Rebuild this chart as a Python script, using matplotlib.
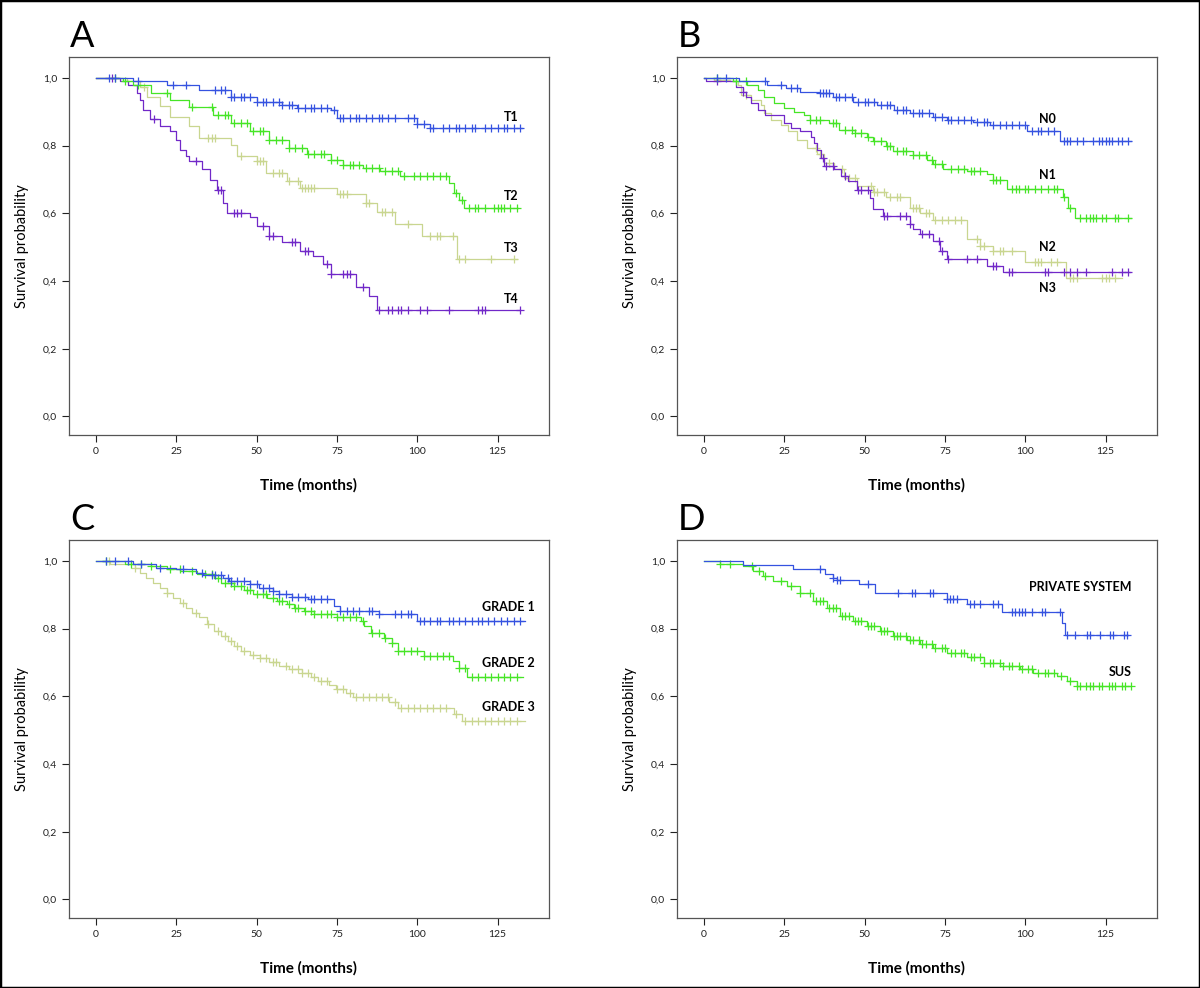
import numpy as np
import matplotlib.pyplot as plt
from matplotlib.patches import Rectangle

plt.rcParams['font.family'] = ['Lato', 'DejaVu Sans']

# cores das curvas
BLUE = '#3552e0'
GREEN = '#46e526'
YELLOW = '#c9d690'
PURPLE = '#7128c8'

# ---- Painel A: estadio T ----
t1_time = [0, 11.5, 22, 32, 42, 50, 58, 62.5, 73, 75, 100, 104]
t1_surv = [1.0, 0.99, 0.98, 0.965, 0.945, 0.93, 0.92, 0.91, 0.905, 0.883, 0.865, 0.853]
t1_cens = [4, 6, 13, 24, 28, 37, 39, 40, 42, 43, 45, 46, 48, 50, 52, 53, 55, 57, 58, 60, 61, 63,
           65, 67, 68, 70, 72, 74, 76, 77, 79, 81, 82, 84, 86, 88, 89, 91, 93, 97, 99, 100, 102,
           104, 105, 108, 110, 112, 113, 115, 117, 118, 121, 123, 125, 127, 128, 130, 132]
t1_end = 132.5

t2_time = [0, 8.4, 11.5, 17, 23, 29, 36.5, 42, 48, 54, 60, 65.6, 73, 77, 83, 88.4, 94.6,
           110, 111.5, 113, 114.6]
t2_surv = [1.0, 0.99, 0.98, 0.955, 0.935, 0.915, 0.89, 0.867, 0.842, 0.818, 0.794, 0.774,
           0.759, 0.744, 0.735, 0.724, 0.71, 0.69, 0.66, 0.64, 0.617]
t2_cens = [6, 9, 13, 22, 30, 36, 38, 40, 41, 43, 45, 47, 49, 51, 52, 54, 56, 58, 60, 62, 64, 66,
           68, 70, 71, 73, 75, 77, 79, 80, 82, 84, 86, 88, 90, 92, 94, 96, 99, 101, 103, 105,
           107, 109, 112, 114, 116, 118, 119, 121, 124, 125, 126, 127, 129, 131]
t2_end = 131.5

t3_time = [0, 9.6, 13.7, 16, 20, 23, 29, 32, 42, 44, 50, 53, 59.5, 63.5, 75, 84, 87.5, 93,
           101.4, 112.4]
t3_surv = [1.0, 0.99, 0.974, 0.945, 0.916, 0.886, 0.857, 0.824, 0.803, 0.77, 0.755, 0.72,
           0.695, 0.676, 0.656, 0.632, 0.603, 0.568, 0.533, 0.465]
t3_cens = [15, 35, 36, 37, 45, 50, 51, 52, 55, 57, 58, 60, 63, 64, 65, 66, 67, 68, 76, 77, 78,
           84, 85, 89, 90, 92, 97, 104, 106, 107, 111, 113, 115, 123, 130]
t3_end = 131

t4_time = [0, 7.5, 10, 12.7, 13.7, 14.7, 16.8, 20, 23, 25, 26, 28, 29, 33, 35.5, 37.6, 39.6,
           40.7, 48, 50, 54, 58, 63.5, 67.5, 70.7, 73, 81, 85, 87.5]
t4_surv = [1.0, 0.99, 0.98, 0.955, 0.935, 0.906, 0.88, 0.857, 0.842, 0.818, 0.788, 0.769,
           0.755, 0.73, 0.70, 0.67, 0.632, 0.602, 0.588, 0.562, 0.533, 0.514, 0.489, 0.475,
           0.45, 0.42, 0.382, 0.357, 0.313]
t4_cens = [5, 18, 31, 38, 39, 43, 44, 45, 52, 54, 55, 61, 62, 65, 66, 72, 73, 77, 78, 79, 83,
           88, 91, 92, 94, 95, 97, 101, 103, 110, 119, 120, 121, 132]
t4_end = 132

# ---- Painel B: estadio N ----
n0_time = [0, 11, 19.5, 25.5, 29.9, 36, 40.2, 46.5, 53.8, 59, 64, 71.4, 75.6, 83.8, 89,
           100.5, 110.8]
n0_surv = [1.0, 0.99, 0.98, 0.97, 0.96, 0.955, 0.945, 0.93, 0.92, 0.906, 0.896, 0.886, 0.876,
           0.869, 0.862, 0.842, 0.813]
n0_cens = [4, 7, 19, 24, 27, 29, 36, 37, 38, 39, 41, 42, 44, 46, 48, 50, 51, 53, 55, 57, 58,
           60, 62, 63, 65, 67, 68, 70, 72, 74, 76, 77, 79, 81, 83, 85, 87, 88, 90, 92, 94, 96,
           98, 100, 102, 104, 105, 107, 109, 112, 113, 114, 116, 118, 121, 123, 124, 125, 126,
           127, 129, 130, 132]
n0_end = 133

n1_time = [0, 9, 13.5, 16.7, 18.8, 21.9, 25, 28, 31, 33, 39, 42, 47, 50.6, 52.7, 56.8, 58.9,
           65, 69.3, 71.4, 74.5, 81.8, 88, 90, 94.2, 111.8, 113.4, 115.4]
n1_surv = [1.0, 0.99, 0.98, 0.965, 0.945, 0.926, 0.912, 0.90, 0.89, 0.876, 0.867, 0.847,
           0.838, 0.827, 0.813, 0.798, 0.783, 0.771, 0.759, 0.747, 0.731, 0.725, 0.715, 0.70,
           0.673, 0.647, 0.617, 0.585]
n1_cens = [4, 10, 13, 33, 35, 36, 40, 41, 44, 46, 47, 49, 51, 53, 55, 57, 58, 60, 62, 63, 65,
           67, 69, 71, 72, 74, 77, 79, 81, 83, 84, 86, 90, 91, 92, 96, 97, 98, 100, 101, 103,
           105, 107, 109, 110, 112, 114, 117, 119, 120, 121, 122, 124, 125, 128, 129, 132]
n1_end = 133

n2_time = [0, 3, 8, 10.5, 11.6, 14.7, 17.8, 18.8, 20.9, 24, 26, 29, 32.2, 35.3, 37.4, 40.5,
           43.6, 47.7, 52.7, 56.8, 64, 67.2, 71.4, 81.8, 86, 90, 100, 112.8]
n2_surv = [1.0, 0.995, 0.99, 0.98, 0.95, 0.935, 0.92, 0.896, 0.876, 0.862, 0.842, 0.818,
           0.794, 0.774, 0.75, 0.73, 0.705, 0.68, 0.662, 0.647, 0.615, 0.60, 0.58, 0.524,
           0.504, 0.489, 0.456, 0.41]
n2_cens = [13, 35, 36, 39, 43, 45, 47, 52, 53, 54, 56, 58, 60, 61, 65, 66, 67, 69, 70, 72, 74,
           76, 78, 80, 85, 86, 87, 90, 92, 93, 96, 103, 104, 105, 108, 110, 114, 115, 116, 124,
           125, 126, 128]
n2_end = 130

n3_time = [0, 0.5, 10, 12, 13, 14.7, 16.8, 19, 25, 27, 30, 33.2, 34.2, 35.3, 36.3, 37.4, 40.5,
           42.6, 44.7, 47.7, 51.7, 52.7, 55.8, 64, 65, 67.2, 71.4, 73.4, 75.6, 88, 93.2]
n3_surv = [1.0, 0.99, 0.974, 0.96, 0.945, 0.926, 0.906, 0.89, 0.867, 0.852, 0.842, 0.827,
           0.808, 0.788, 0.765, 0.74, 0.73, 0.71, 0.695, 0.67, 0.646, 0.612, 0.592, 0.568,
           0.553, 0.538, 0.519, 0.489, 0.465, 0.445, 0.426]
n3_cens = [4, 12, 37, 38, 40, 44, 48, 49, 51, 56, 57, 61, 63, 64, 68, 70, 73, 74, 76, 82, 85,
           90, 91, 95, 96, 106, 107, 112, 114, 116, 119, 127, 130, 132]
n3_end = 132.6

# ---- Painel C: grau histologico ----
g1_time = [0, 11.5, 18.7, 25, 31, 33.2, 39.4, 41.5, 48, 50.8, 55, 57, 61, 66, 74, 76, 88, 100]
g1_surv = [1.0, 0.99, 0.98, 0.975, 0.965, 0.96, 0.951, 0.941, 0.931, 0.921, 0.912, 0.902,
           0.894, 0.887, 0.867, 0.852, 0.843, 0.823]
g1_cens = [3, 6, 10, 14, 20, 27, 33, 36, 37, 39, 41, 42, 44, 46, 48, 50, 52, 54, 55, 57, 59,
           61, 63, 65, 67, 68, 70, 72, 76, 78, 80, 82, 85, 86, 88, 93, 95, 97, 98, 101, 102,
           104, 106, 107, 110, 111, 113, 115, 117, 119, 120, 122, 124, 126, 128, 130, 132]
g1_end = 133.5

g2_time = [0, 9, 17, 22, 26.3, 31.5, 36.7, 38.8, 43, 46, 49, 53.2, 56.3, 59.5, 61.6, 64.7,
           67.8, 75, 82.4, 83.4, 85.5, 89.7, 92, 94, 102, 111, 113, 115.6]
g2_surv = [1.0, 0.99, 0.985, 0.975, 0.97, 0.962, 0.951, 0.936, 0.926, 0.914, 0.902, 0.892,
           0.882, 0.872, 0.862, 0.853, 0.843, 0.833, 0.823, 0.808, 0.788, 0.772, 0.759, 0.734,
           0.72, 0.705, 0.683, 0.656]
g2_cens = [3, 11, 14, 17, 23, 26, 30, 34, 36, 38, 40, 42, 43, 45, 47, 48, 50, 52, 53, 55, 57,
           58, 60, 62, 63, 65, 67, 68, 70, 72, 73, 75, 77, 79, 81, 83, 86, 88, 90, 92, 94, 96,
           98, 100, 102, 104, 106, 108, 110, 113, 115, 117, 119, 121, 123, 125, 127, 129, 131]
g2_end = 133

g3_time = [0, 4.4, 12, 13.7, 15.7, 17.8, 19.9, 22, 24, 26, 28, 30, 32, 34.5, 36.7, 38.8, 41,
           43, 45, 48, 51, 54, 57, 60, 64, 67, 69, 72.5, 74.7, 77.8, 80, 91.3, 94, 111.5, 114]
g3_surv = [1.0, 0.99, 0.98, 0.965, 0.951, 0.936, 0.921, 0.906, 0.892, 0.877, 0.862, 0.847,
           0.833, 0.813, 0.794, 0.779, 0.764, 0.749, 0.734, 0.723, 0.713, 0.702, 0.69, 0.68,
           0.668, 0.658, 0.646, 0.634, 0.621, 0.609, 0.597, 0.582, 0.567, 0.548, 0.528]
g3_cens = [4, 12, 22, 27, 31, 35, 38, 40, 42, 44, 46, 49, 51, 53, 55, 56, 59, 61, 63, 64, 66,
           68, 70, 72, 75, 77, 79, 81, 83, 85, 87, 89, 91, 93, 95, 97, 99, 101, 103, 105, 107,
           109, 112, 115, 117, 119, 121, 123, 125, 127, 129, 131]
g3_end = 133.5

# ---- Painel D: sistema de saude ----
priv_time = [0, 12.2, 27.7, 37.6, 40.2, 41.3, 48.3, 53.2, 75.6, 81.8, 92.7, 111.4, 112.4]
priv_surv = [1.0, 0.988, 0.975, 0.963, 0.951, 0.944, 0.933, 0.905, 0.887, 0.872, 0.85, 0.818,
             0.782]
priv_cens = [36.1, 40.3, 41.3, 42.3, 51.2, 60.5, 64.7, 65.7, 70.4, 71.4, 75.6, 76.6, 77.6, 78.7,
             82.8, 83.9, 86, 90.1, 91.6, 95.8, 96.8, 97.9, 98.9, 99.9, 102, 105.1, 106.2, 110.8,
             112.9, 115.5, 119.1, 120.2, 123.3, 126.4, 127.4, 130.6, 131.6]
priv_end = 132.1

sus_time = [0, 5, 12.2, 15.4, 18.5, 21.6, 25.7, 29.9, 34.0, 38.2, 42.3, 46.5, 50.6, 54.8, 58.9,
            63.1, 67.2, 71.4, 75.6, 81.8, 87.0, 92.2, 98.4, 102.5, 109.8, 112.9, 116.0]
sus_surv = [1.0, 0.99, 0.985, 0.971, 0.956, 0.941, 0.926, 0.906, 0.882, 0.860, 0.838, 0.823,
            0.808, 0.794, 0.779, 0.766, 0.754, 0.742, 0.727, 0.715, 0.700, 0.690, 0.681, 0.668,
            0.661, 0.646, 0.632]
sus_cens = [5, 8, 15, 17, 19, 24, 27, 30, 33, 35, 36, 37, 39, 40, 41, 43, 44, 45, 47, 48, 49,
            51, 52, 53, 55, 56, 57, 59, 60, 61, 63, 64, 65, 67, 68, 69, 71, 72, 74, 75, 77, 78,
            80, 81, 83, 84, 86, 87, 89, 90, 92, 93, 95, 96, 98, 99, 101, 102, 104, 106, 107,
            109, 111, 114, 116, 117, 119, 120, 121, 123, 124, 126, 127, 128, 130, 131, 133]
sus_end = 133


def km(ax, times, surv, cens, end, color):
    # curva em escada + marcas de censura
    t = np.append(times, end)
    s = np.append(surv, surv[-1])
    ax.step(t, s, where='post', color=color, lw=0.9)
    idx = np.searchsorted(times, cens, side='right') - 1
    ax.plot(cens, np.asarray(surv)[idx], '+', color=color, ms=5.5, mew=0.9)


def setup(ax):
    ax.set_xlim(-8.4, 141)
    ax.set_ylim(-0.055, 1.062)
    ax.set_xticks([0, 25, 50, 75, 100, 125])
    ax.set_yticks([0, 0.2, 0.4, 0.6, 0.8, 1.0])
    ax.set_yticklabels(['0,0', '0,2', '0,4', '0,6', '0,8', '1,0'])
    ax.tick_params(direction='out', length=5, width=0.8, labelsize=7.5, colors='#222222')
    for sp in ax.spines.values():
        sp.set_color('#555555')
        sp.set_linewidth(0.9)
    ax.set_xlabel('Time (months)', fontsize=11, fontweight='bold', labelpad=16)
    ax.set_ylabel('Survival probability', fontsize=10.5, labelpad=10)


fig = plt.figure(figsize=(12, 9.88), dpi=100)
W, H = 1200, 988
boxes = {'A': (69, 57), 'B': (677, 57), 'C': (69, 540), 'D': (677, 540)}
axes = {}
for k, (x0, y0) in boxes.items():
    axes[k] = fig.add_axes([x0 / W, 1 - (y0 + 378) / H, 480 / W, 378 / H])
    setup(axes[k])
    fig.text((x0 + 1) / W, 1 - (y0 - 10) / H, k, fontsize=26, ha='left', va='baseline')

ax = axes['A']
km(ax, t3_time, t3_surv, t3_cens, t3_end, YELLOW)
km(ax, t4_time, t4_surv, t4_cens, t4_end, PURPLE)
km(ax, t2_time, t2_surv, t2_cens, t2_end, GREEN)
km(ax, t1_time, t1_surv, t1_cens, t1_end, BLUE)
for lab, yv in [('T1', 0.885), ('T2', 0.652), ('T3', 0.497), ('T4', 0.347)]:
    ax.text(131.5, yv, lab, ha='right', va='center', fontsize=9, fontweight='bold')

ax = axes['B']
km(ax, n2_time, n2_surv, n2_cens, n2_end, YELLOW)
km(ax, n3_time, n3_surv, n3_cens, n3_end, PURPLE)
km(ax, n1_time, n1_surv, n1_cens, n1_end, GREEN)
km(ax, n0_time, n0_surv, n0_cens, n0_end, BLUE)
for lab, yv in [('N0', 0.878), ('N1', 0.712), ('N2', 0.5), ('N3', 0.378)]:
    ax.text(107, yv, lab, ha='center', va='center', fontsize=9, fontweight='bold')

ax = axes['C']
km(ax, g3_time, g3_surv, g3_cens, g3_end, YELLOW)
km(ax, g2_time, g2_surv, g2_cens, g2_end, GREEN)
km(ax, g1_time, g1_surv, g1_cens, g1_end, BLUE)
for lab, yv in [('GRADE 1', 0.864), ('GRADE 2', 0.7), ('GRADE 3', 0.569)]:
    ax.text(136.5, yv, lab, ha='right', va='center', fontsize=9, fontweight='bold')

ax = axes['D']
km(ax, sus_time, sus_surv, sus_cens, sus_end, GREEN)
km(ax, priv_time, priv_surv, priv_cens, priv_end, BLUE)
for lab, yv in [('PRIVATE SYSTEM', 0.923), ('SUS', 0.673)]:
    ax.text(133, yv, lab, ha='right', va='center', fontsize=9, fontweight='bold')

# moldura preta em volta da figura
fig.patches.append(Rectangle((0, 0), 1, 1, transform=fig.transFigure, fill=False,
                             edgecolor='black', lw=2.5))

fig.savefig('out.png', dpi=100)
